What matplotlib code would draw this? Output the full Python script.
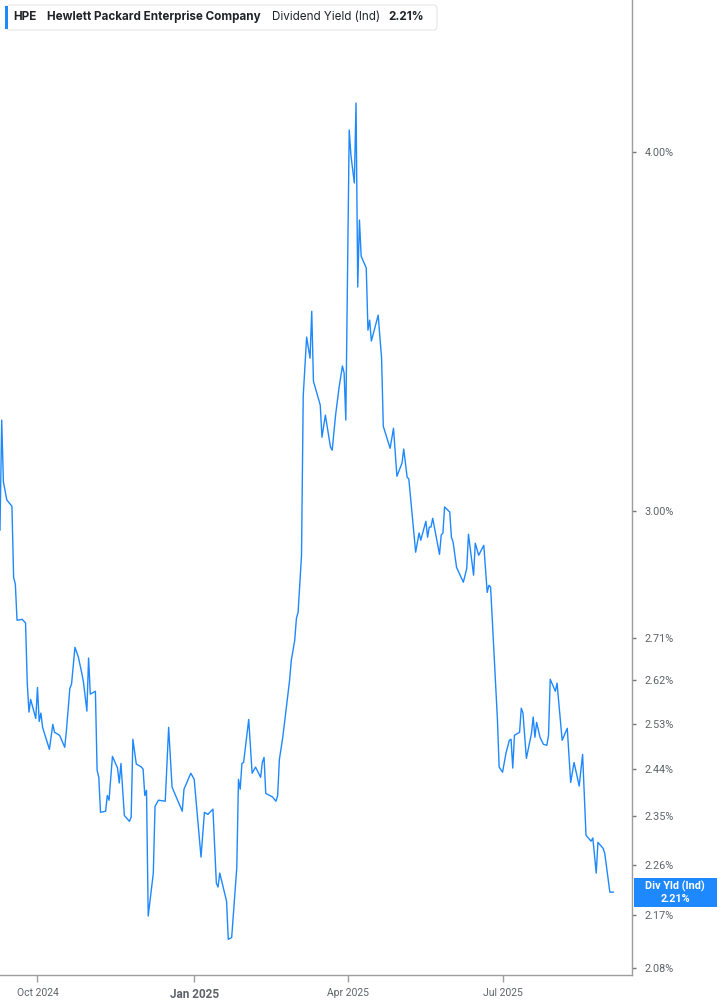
import datetime as dt
import numpy as np
import matplotlib
matplotlib.use("Agg")
import matplotlib.pyplot as plt
import matplotlib.dates as mdates
import matplotlib.patches as mpatches

# series: days after the start date and dividend yield (%)
start_date = dt.date(2024, 9, 9)
days = [0, 1, 2, 4, 7, 8, 9, 10, 13, 15, 16, 17, 18, 21, 22, 23, 24, 25, 29, 31,
        32, 35, 38, 39, 41, 42, 44, 46, 48, 49, 51, 52, 53, 56, 57, 58, 59, 62, 63, 64,
        66, 69, 70, 71, 73, 76, 77, 78, 80, 83, 84, 85, 86, 87, 90, 91, 93, 97, 99, 101,
        107, 108, 112, 114, 118, 120, 122, 125, 127, 128, 129, 133, 134, 136, 139, 140, 141, 142, 143, 146,
        148, 150, 153, 154, 155, 156, 160, 162, 163, 164, 166, 168, 170, 171, 173, 174, 175, 177, 178, 179,
        180, 182, 183, 184, 188, 189, 191, 194, 195, 197, 199, 201, 202, 203, 205, 206, 208, 209, 210, 211,
        212, 215, 216, 217, 218, 222, 224, 225, 229, 231, 233, 236, 237, 239, 240, 244, 246, 247, 250, 251,
        252, 253, 254, 258, 259, 260, 261, 264, 265, 266, 268, 272, 274, 275, 278, 279, 281, 284, 286, 287,
        288, 292, 293, 295, 297, 299, 300, 301, 302, 305, 306, 307, 309, 312, 313, 314, 315, 317, 319, 321,
        322, 323, 326, 327, 330, 333, 335, 337, 340, 342, 344, 347, 348, 350, 351, 354, 355, 358, 360]
yields = [2.955, 3.227, 3.071, 3.027, 3.012, 2.845, 2.830, 2.749, 2.751, 2.743, 2.614, 2.554, 2.580, 2.541, 2.605, 2.535, 2.552, 2.523, 2.479, 2.529,
          2.513, 2.507, 2.483, 2.517, 2.603, 2.612, 2.690, 2.669, 2.635, 2.616, 2.556, 2.667, 2.591, 2.597, 2.438, 2.424, 2.357, 2.359, 2.389, 2.380,
          2.465, 2.442, 2.413, 2.451, 2.351, 2.340, 2.348, 2.499, 2.450, 2.444, 2.440, 2.389, 2.399, 2.169, 2.245, 2.368, 2.380, 2.378, 2.523, 2.405,
          2.359, 2.401, 2.432, 2.420, 2.274, 2.357, 2.353, 2.363, 2.227, 2.220, 2.245, 2.195, 2.129, 2.132, 2.255, 2.420, 2.401, 2.451, 2.453, 2.539,
          2.432, 2.444, 2.424, 2.453, 2.463, 2.393, 2.386, 2.378, 2.389, 2.459, 2.503, 2.560, 2.620, 2.662, 2.705, 2.753, 2.767, 2.896, 3.290, 3.367,
          3.449, 3.391, 3.521, 3.329, 3.266, 3.183, 3.240, 3.158, 3.150, 3.240, 3.311, 3.370, 3.351, 3.227, 4.071, 3.990, 3.902, 4.160, 3.590, 3.788,
          3.680, 3.645, 3.468, 3.496, 3.438, 3.510, 3.391, 3.211, 3.155, 3.206, 3.085, 3.118, 3.153, 3.083, 3.078, 2.903, 2.948, 2.931, 2.976, 2.938,
          2.962, 2.962, 2.983, 2.898, 2.943, 2.948, 3.010, 2.998, 2.938, 2.926, 2.868, 2.834, 2.866, 2.945, 2.850, 2.924, 2.896, 2.919, 2.811, 2.827,
          2.823, 2.539, 2.444, 2.434, 2.471, 2.497, 2.499, 2.442, 2.507, 2.513, 2.562, 2.552, 2.461, 2.511, 2.544, 2.503, 2.533, 2.503, 2.489, 2.487,
          2.507, 2.622, 2.597, 2.614, 2.497, 2.521, 2.414, 2.453, 2.407, 2.469, 2.314, 2.303, 2.309, 2.245, 2.301, 2.290, 2.281, 2.211, 2.211]

y_ticks = [2.08, 2.17, 2.26, 2.35, 2.44, 2.53, 2.62, 2.71, 3.00, 4.00]
x_ticks = [dt.date(2024, 10, 1), dt.date(2025, 1, 1), dt.date(2025, 4, 1), dt.date(2025, 7, 1)]
x_labels = ["Oct 2024", "Jan 2025", "Apr 2025", "Jul 2025"]
last_value = yields[-1]

BLUE = "#1E88FF"
GREY = "#5f6368"
W, H = 717, 1005

dates = [start_date + dt.timedelta(days=d) for d in days]

fig = plt.figure(figsize=(W / 100, H / 100), dpi=100)
ax = fig.add_axes([0, 30 / H, 632 / W, 975 / H])
ax.plot(dates, yields, color=BLUE, lw=1.0)

ax.set_yscale("log")
ax.set_ylim(2.069, 4.518)
ax.set_xlim(start_date, start_date + dt.timedelta(days=371.9))

for s in ["left", "top"]:
    ax.spines[s].set_visible(False)
for s in ["right", "bottom"]:
    ax.spines[s].set_color("#9e9e9e")
    ax.spines[s].set_linewidth(1.0)

ax.yaxis.tick_right()
ax.yaxis.set_minor_locator(matplotlib.ticker.NullLocator())
ax.set_yticks(y_ticks)
ax.set_yticklabels([f"{v:.2f}%" for v in y_ticks])
ax.tick_params(axis="y", length=3, width=1, color="#777777", pad=6,
               labelsize=7.8, labelcolor=GREY)

ax.set_xticks(x_ticks)
ax.set_xticklabels(x_labels)
ax.tick_params(axis="x", length=5, width=1, color="#9e9e9e", pad=4,
               labelsize=7.5, labelcolor=GREY)
for lbl in ax.get_xticklabels():
    lbl.set_fontfamily("Roboto")
    if lbl.get_text() == "Jan 2025":
        lbl.set_fontweight("bold")
        lbl.set_fontsize(8.5)
for lbl in ax.get_yticklabels():
    lbl.set_fontfamily("Roboto")


def fx(px):
    return px / W


def fy(py):
    return 1 - py / H


# header box
fig.patches.append(mpatches.FancyBboxPatch(
    (fx(6), fy(30)), fx(431), 25 / H, boxstyle="round,pad=0,rounding_size=0.004",
    transform=fig.transFigure, facecolor="white", edgecolor="#e6e6e6", lw=0.8))
fig.patches.append(mpatches.Rectangle(
    (fx(5), fy(29)), fx(3), 23 / H, transform=fig.transFigure,
    facecolor=BLUE, edgecolor="none"))
hdr = dict(va="center", ha="left", fontsize=8.4, color="#1f2328", family="Inter")
fig.text(fx(13), fy(17), "HPE", fontweight="bold", **hdr)
fig.text(fx(47), fy(17), "Hewlett Packard Enterprise Company", fontweight="bold", **hdr)
fig.text(fx(272), fy(17), "Dividend Yield (Ind)", **hdr)
fig.text(fx(388), fy(17), f"{last_value:.2f}%", fontweight="bold", **hdr)

# last value label on the right axis
fig.patches.append(mpatches.Rectangle(
    (fx(634), fy(907)), fx(83), 29 / H, transform=fig.transFigure,
    facecolor=BLUE, edgecolor="none"))
fig.text(fx(675), fy(886), "Div Yld (Ind)", ha="center", va="center",
         fontsize=7.8, fontweight="bold", color="white", family="Roboto")
fig.text(fx(675), fy(899), f"{last_value:.2f}%", ha="center", va="center",
         fontsize=7.8, fontweight="bold", color="white", family="Roboto")

fig.savefig("out.png", dpi=100)
